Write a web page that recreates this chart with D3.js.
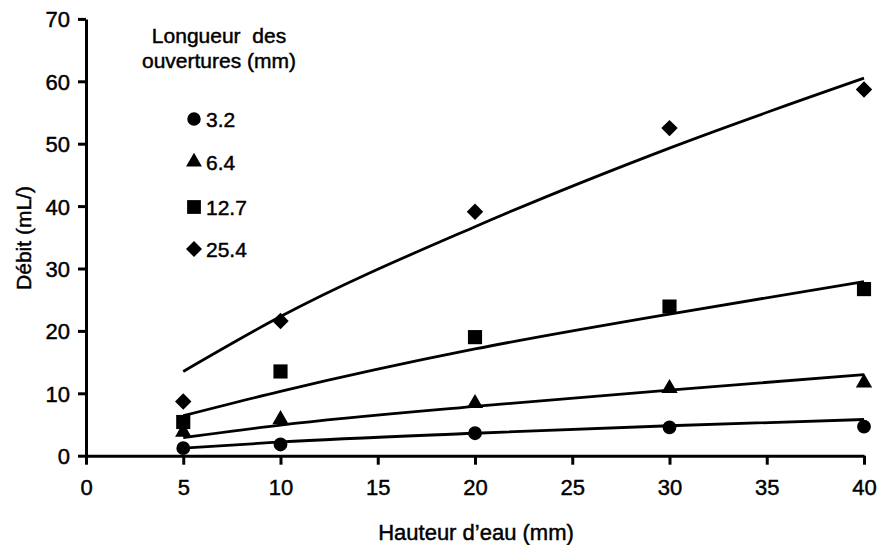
<!DOCTYPE html>
<html>
<head>
<meta charset="utf-8">
<script src="https://cdn.jsdelivr.net/npm/d3@7"></script>
<style>
  body { margin: 0; background: #fff; }
  svg { display: block; font-family: "Liberation Sans", Arial, Helvetica, sans-serif; }
  text { stroke: #000; stroke-width: 0.45px; }
</style>
</head>
<body>
<div id="chart"></div>
<script>
// measurement heights (mm)
const hauteurs = [5, 10, 20, 30, 40]

// measured flow for each opening length
const points32 = [1.2, 1.8, 3.6, 4.55, 4.65]
const points64 = [3.8, 5.8, 8.4, 10.8, 11.7]
const points127 = [5.4, 13.5, 19.0, 23.9, 26.7]
const points254 = [8.7, 21.6, 39.1, 52.5, 58.7]

// fitted curves at the same heights
const fit32 = [1.2, 2.2, 3.6, 4.8, 5.8]
const fit64 = [2.9, 4.9, 7.9, 10.5, 13.0]
const fit127 = [6.4, 10.3, 17.1, 22.7, 27.9]
const fit254 = [13.5, 22.3, 36.7, 49.3, 60.5]

const legendLabels = ["3.2", "6.4", "12.7", "25.4"]
const xTicks = [0, 5, 10, 15, 20, 25, 30, 35, 40]
const yTicks = [0, 10, 20, 30, 40, 50, 60, 70]

const width = 879
const height = 545

const svg = d3.select("#chart")
  .append("svg")
  .attr("width", width)
  .attr("height", height)

const x = d3.scaleLinear().domain([0, 40]).range([86, 864])
const y = d3.scaleLinear().domain([0, 70]).range([455.7, 18.9])

const series = [
  { label: legendLabels[0], points: points32, fit: fit32, shape: "circle" },
  { label: legendLabels[1], points: points64, fit: fit64, shape: "triangle" },
  { label: legendLabels[2], points: points127, fit: fit127, shape: "square" },
  { label: legendLabels[3], points: points254, fit: fit254, shape: "diamond" }
]

function marker(shape, scale = 1) {
  if (shape === "circle") return { path: d3.symbol(d3.symbolCircle, 150 * scale)(), rot: 0 }
  if (shape === "triangle") return { path: d3.symbol(d3.symbolTriangle, 115 * scale)(), rot: 0 }
  if (shape === "square") return { path: d3.symbol(d3.symbolSquare, 200 * scale)(), rot: 0 }
  return { path: d3.symbol(d3.symbolSquare, 135 * scale)(), rot: 45 }
}

// axes
const xAxis = svg.append("g")
  .attr("transform", `translate(0,${y(0)})`)
  .call(d3.axisBottom(x).tickValues(xTicks).tickSize(9).tickSizeOuter(0).tickPadding(15))

const yAxis = svg.append("g")
  .attr("transform", `translate(${x(0)},0)`)
  .call(d3.axisLeft(y).tickValues(yTicks).tickSize(8).tickSizeOuter(0).tickPadding(8))

for (const ax of [xAxis, yAxis]) {
  ax.select(".domain").attr("stroke", "#000").attr("stroke-width", 3)
  ax.selectAll(".tick line").attr("stroke", "#000").attr("stroke-width", 3)
  ax.selectAll(".tick text")
    .attr("fill", "#000")
    .style("font-size", "22px")
    .style("font-family", "'Liberation Sans', Arial, sans-serif")
}
yAxis.selectAll(".tick text").attr("dy", "0.36em")

// fitted lines
const line = d3.line()
  .x((d, i) => x(hauteurs[i]))
  .y(d => y(d))
  .curve(d3.curveMonotoneX)

svg.selectAll(".fit")
  .data(series)
  .enter()
  .append("path")
  .attr("class", "fit")
  .attr("d", d => line(d.fit))
  .attr("fill", "none")
  .attr("stroke", "#000")
  .attr("stroke-width", 2.8)

// data markers
series.forEach(s => {
  const m = marker(s.shape)
  svg.selectAll(null)
    .data(s.points)
    .enter()
    .append("path")
    .attr("d", m.path)
    .attr("transform", (d, i) => `translate(${x(hauteurs[i])},${y(d)}) rotate(${m.rot})`)
    .attr("fill", "#000")
})

// legend
const legend = svg.append("g").style("font-size", "21px").attr("fill", "#000")
legend.append("text").attr("x", 219).attr("y", 43).attr("text-anchor", "middle")
  .attr("xml:space", "preserve").text("Longueur  des")
legend.append("text").attr("x", 219).attr("y", 68).attr("text-anchor", "middle")
  .text("ouvertures (mm)")

const legendY = [119, 162, 207, 249]
series.forEach((s, i) => {
  const m = marker(s.shape, 0.95)
  legend.append("path")
    .attr("d", m.path)
    .attr("transform", `translate(194,${legendY[i]}) rotate(${m.rot})`)
    .attr("fill", "#000")
  legend.append("text")
    .attr("x", 206)
    .attr("y", legendY[i] + 8)
    .text(s.label)
})

// axis titles
svg.append("text")
  .attr("x", 476)
  .attr("y", 540)
  .attr("text-anchor", "middle")
  .style("font-size", "22px")
  .text("Hauteur d\u2019eau (mm)")

svg.append("text")
  .attr("transform", "translate(31,238) rotate(-90)")
  .attr("text-anchor", "middle")
  .style("font-size", "21px")
  .text("Débit (mL/)")
</script>
</body>
</html>
